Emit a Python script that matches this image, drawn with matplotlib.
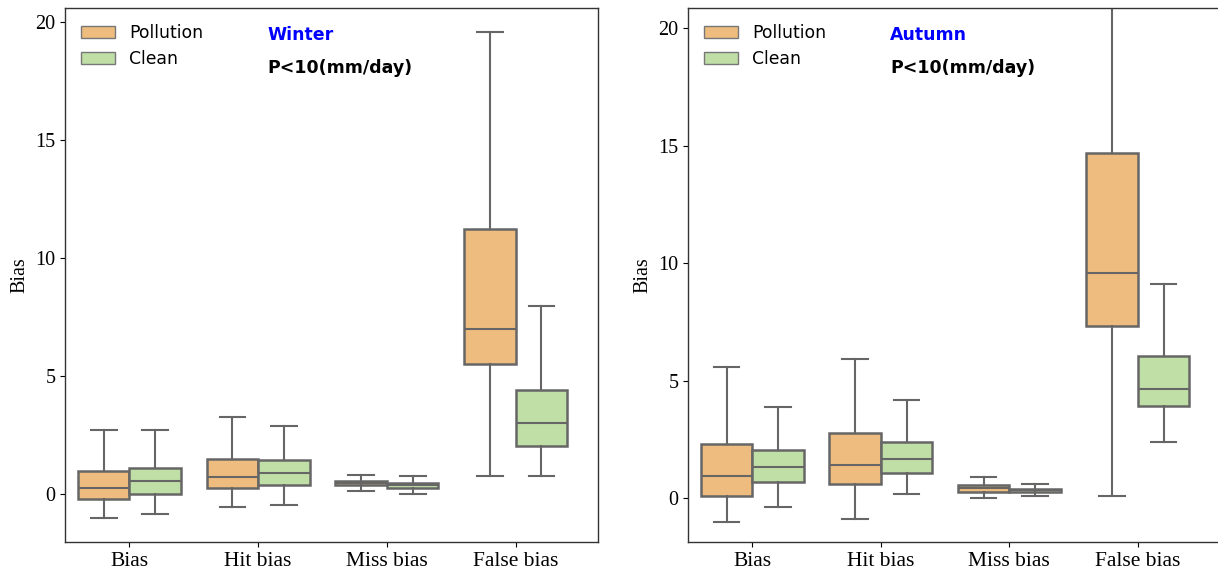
#
# bias_boxes.py - winter / autumn bias box plots, pollution vs clean
#
import matplotlib.pyplot as plt
from matplotlib.patches import Patch

categories = ["Bias", "Hit bias", "Miss bias", "False bias"]
groups = ["Pollution", "Clean"]
colors = ["#EEBC7E", "#C0DFA7"]
edge = "#666666"

# five numbers per box: whisker low, q1, median, q3, whisker high
winter_pollution = [[-1.03, -0.22, 0.27, 0.99, 2.74],
                    [-0.54, 0.28, 0.73, 1.48, 3.26],
                    [0.14, 0.37, 0.47, 0.56, 0.82],
                    [0.75, 5.50, 7.01, 11.23, 19.58]]
winter_clean = [[-0.85, 0.00, 0.55, 1.11, 2.73],
                [-0.47, 0.38, 0.90, 1.45, 2.89],
                [0.01, 0.28, 0.38, 0.48, 0.76],
                [0.75, 2.04, 3.02, 4.40, 7.97]]
autumn_pollution = [[-1.03, 0.10, 0.96, 2.32, 5.60],
                    [-0.87, 0.61, 1.39, 2.77, 5.93],
                    [0.00, 0.28, 0.41, 0.54, 0.89],
                    [0.10, 7.34, 9.60, 14.70, 21.50]]
autumn_clean = [[-0.37, 0.70, 1.31, 2.03, 3.89],
                [0.16, 1.08, 1.67, 2.38, 4.18],
                [0.08, 0.27, 0.34, 0.40, 0.60],
                [2.39, 3.92, 4.64, 6.03, 9.12]]

yticks = [0, 5, 10, 15, 20]


def make_stats(rows):
    out = []
    for lo, q1, med, q3, hi in rows:
        out.append(dict(whislo=lo, q1=q1, med=med, q3=q3, whishi=hi, fliers=[]))
    return out


def draw_panel(ax, pollution, clean, season, ylim):
    for k, data in enumerate([pollution, clean]):
        pos = [i - 0.2 + 0.4 * k for i in range(len(categories))]
        bp = ax.bxp(make_stats(data), positions=pos, widths=0.4, patch_artist=True,
                    showfliers=False, manage_ticks=False,
                    boxprops=dict(edgecolor=edge, linewidth=1.8),
                    whiskerprops=dict(color=edge, linewidth=1.5),
                    capprops=dict(color=edge, linewidth=1.5),
                    medianprops=dict(color=edge, linewidth=1.5))
        for b in bp["boxes"]:
            b.set_facecolor(colors[k])
    ax.set_xticks(range(len(categories)))
    ax.set_xticklabels(categories, family="Liberation Serif", fontsize=15.5)
    ax.set_yticks(yticks)
    ax.set_yticklabels([str(t) for t in yticks], family="Liberation Serif", fontsize=14.5)
    ax.set_xlim(-0.5, 3.64)
    ax.set_ylim(*ylim)
    ax.set_ylabel("Bias", family="Liberation Serif", fontsize=14.5)
    for s in ax.spines.values():
        s.set_color("#333333")
        s.set_linewidth(1.0)
    handles = [Patch(facecolor=colors[i], edgecolor="#777777", label=groups[i]) for i in range(2)]
    ax.legend(handles=handles, loc="upper left", frameon=False, fontsize=12.4)
    ax.text(0.38, 0.949, season, transform=ax.transAxes, color="blue",
            fontsize=12.5, fontweight="bold", va="center")
    ax.text(0.38, 0.888, "P<10(mm/day)", transform=ax.transAxes, color="black",
            fontsize=12.5, fontweight="bold", va="center")


fig = plt.figure(figsize=(12.18, 5.74), dpi=100)
ax1 = fig.add_axes([0.0534, 0.0557, 0.4376, 0.930])
ax2 = fig.add_axes([0.5649, 0.0557, 0.4368, 0.930])
draw_panel(ax1, winter_pollution, winter_clean, "Winter", (-2.03, 20.6))
draw_panel(ax2, autumn_pollution, autumn_clean, "Autumn", (-1.87, 20.85))
ax2.spines["right"].set_visible(False)
fig.savefig("out.png", dpi=100)
